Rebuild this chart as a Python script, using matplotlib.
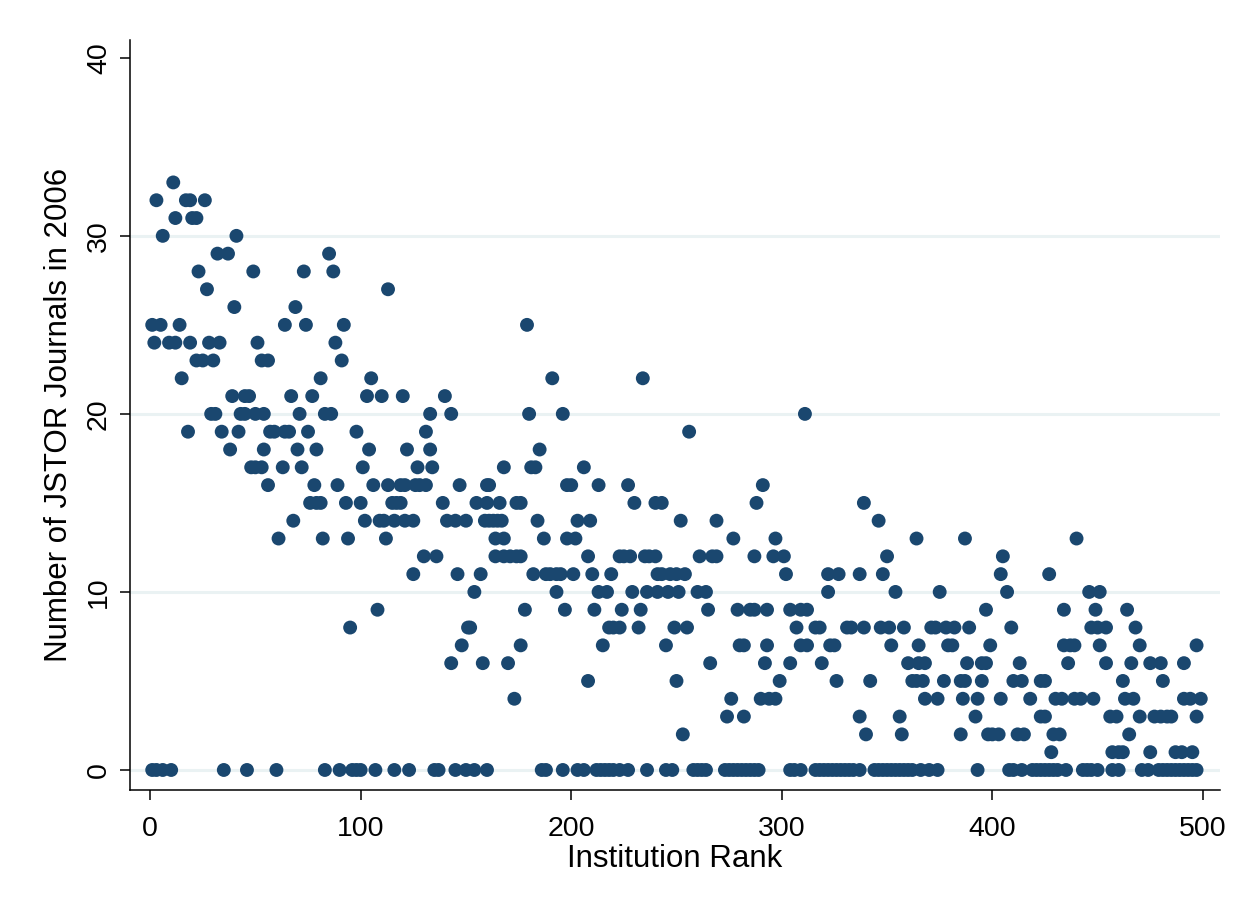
import matplotlib
matplotlib.use("Agg")
import matplotlib.pyplot as plt

# institutions with at least one JSTOR journal (rank, count)
rank = [1, 5, 2, 9, 12, 3, 6, 11, 12, 14, 15, 17, 19, 18, 19, 20, 22, 22, 25, 23, 26, 27, 28, 33, 30, 29, 31, 32, 37, 34,
        41, 40, 39, 45, 47, 38, 43, 45, 42, 49, 51, 53, 56, 50, 54, 48, 50, 53, 54, 57, 59, 64, 66, 56, 61, 63, 64, 69, 67, 68,
        71, 70, 73, 74, 72, 75, 77, 78, 76, 79, 81, 79, 81, 82, 85, 87, 83, 86, 88, 92, 91, 89, 93, 94, 95, 98, 100, 101, 102, 103,
        105, 104, 106, 108, 110, 109, 111, 112, 113, 113, 115, 117, 119, 116, 120, 119, 121, 121, 125, 122, 125, 127, 126, 128, 131, 130, 131, 133, 133, 134,
        136, 140, 139, 143, 141, 145, 150, 143, 146, 147, 148, 151, 152, 154, 155, 157, 158, 160, 161, 159, 161, 160, 166, 163, 165, 164, 168, 164, 168, 168,
        167, 170, 173, 171, 174, 176, 174, 176, 176, 178, 179, 180, 181, 183, 182, 184, 185, 187, 188, 190, 193, 195, 191, 193, 196, 197, 198, 200, 198, 202,
        201, 203, 206, 208, 208, 209, 210, 211, 213, 213, 217, 215, 218, 220, 223, 219, 224, 223, 228, 225, 227, 229, 232, 230, 233, 235, 237, 240, 234, 236,
        241, 240, 243, 241, 243, 247, 250, 245, 249, 246, 251, 250, 252, 253, 255, 254, 256, 260, 264, 261, 267, 269, 265, 266, 269, 274, 276, 277, 279, 285,
        280, 282, 282, 288, 287, 287, 290, 294, 297, 291, 292, 293, 293, 297, 296, 301, 299, 302, 304, 309, 312, 304, 307, 309, 312, 311, 316, 318, 319, 322,
        327, 322, 323, 325, 326, 331, 333, 337, 337, 339, 340, 342, 339, 347, 346, 348, 350, 351, 354, 352, 356, 357, 358, 360, 362, 364, 367, 365, 365, 368,
        364, 368, 371, 373, 378, 382, 375, 377, 374, 379, 381, 385, 385, 387, 388, 387, 389, 386, 393, 392, 395, 397, 395, 397, 399, 398, 400, 403, 404, 405,
        407, 404, 409, 410, 414, 413, 412, 415, 418, 423, 425, 423, 425, 427, 428, 429, 432, 430, 434, 434, 437, 439, 433, 439, 442, 436, 440, 446, 451, 447,
        450, 454, 449, 448, 451, 454, 456, 459, 462, 457, 460, 462, 463, 467, 464, 468, 470, 466, 475, 465, 470, 475, 477, 480, 483, 485, 480, 481, 487, 490,
        491, 494, 499, 491, 497, 497, 495]
journals = [25, 25, 24, 24, 24, 32, 30, 33, 31, 25, 22, 32, 32, 19, 24, 31, 31, 23, 23, 28, 32, 27, 24, 24, 23, 20, 20, 29, 29, 19,
            30, 26, 21, 21, 21, 18, 20, 20, 19, 28, 24, 23, 23, 20, 20, 17, 17, 17, 18, 19, 19, 19, 19, 16, 13, 17, 25, 26, 21, 14,
            20, 18, 28, 25, 17, 19, 21, 16, 15, 15, 15, 18, 22, 13, 29, 28, 20, 20, 24, 25, 23, 16, 15, 13, 8, 19, 15, 17, 14, 21,
            22, 18, 16, 9, 21, 14, 14, 13, 27, 16, 15, 15, 15, 14, 21, 16, 16, 14, 14, 18, 11, 17, 16, 16, 16, 12, 19, 20, 18, 17,
            12, 21, 15, 20, 14, 14, 14, 6, 11, 16, 7, 8, 8, 10, 15, 11, 6, 16, 16, 14, 14, 15, 15, 14, 14, 13, 13, 12, 12, 17,
            14, 6, 4, 12, 12, 12, 15, 15, 7, 9, 25, 20, 17, 17, 11, 14, 18, 13, 11, 11, 11, 11, 22, 10, 20, 9, 16, 16, 13, 13,
            11, 14, 17, 12, 5, 14, 11, 9, 16, 10, 10, 7, 8, 8, 8, 11, 9, 12, 12, 12, 16, 10, 8, 15, 9, 12, 12, 12, 22, 10,
            10, 15, 15, 11, 11, 11, 11, 7, 8, 10, 10, 5, 14, 2, 8, 11, 19, 10, 10, 12, 12, 12, 9, 6, 14, 3, 4, 13, 9, 9,
            7, 7, 3, 15, 12, 9, 4, 4, 4, 16, 6, 7, 9, 13, 12, 12, 5, 11, 9, 9, 9, 6, 8, 7, 7, 20, 8, 8, 6, 11,
            11, 10, 7, 7, 5, 8, 8, 11, 3, 15, 2, 5, 8, 8, 14, 11, 12, 8, 10, 7, 3, 2, 8, 6, 5, 5, 5, 7, 6, 6,
            13, 4, 8, 8, 8, 8, 10, 5, 4, 7, 7, 2, 5, 5, 6, 13, 8, 4, 4, 3, 6, 6, 5, 9, 7, 2, 2, 2, 11, 12,
            10, 4, 8, 5, 5, 6, 2, 2, 4, 5, 5, 3, 3, 11, 1, 2, 2, 4, 9, 7, 7, 7, 4, 4, 4, 6, 13, 10, 10, 8,
            8, 8, 9, 4, 7, 6, 3, 3, 5, 1, 1, 1, 4, 4, 9, 8, 7, 6, 6, 2, 3, 1, 3, 3, 3, 3, 6, 5, 1, 1,
            4, 4, 4, 6, 7, 3, 1]

# institutions with no JSTOR journals
zero_rank = [1, 3, 6, 10, 35, 46, 60, 83, 90, 96, 98, 100, 107, 116, 123, 135, 137, 145, 150, 154, 160, 186, 188, 196, 203,
             206, 212, 214, 216, 218, 220, 223, 227, 236, 245, 248, 258, 260, 262, 264, 273, 275, 277, 279, 281, 283, 285, 287,
             289, 304, 306, 309, 316, 318, 320, 322, 324, 326, 328, 330, 332, 334, 337, 344, 346, 348, 350, 352, 354, 356, 358,
             360, 362, 366, 370, 374, 393, 408, 410, 414, 419, 421, 423, 425, 427, 429, 431, 435, 443, 445, 447, 450, 457, 460,
             471, 474, 479, 481, 483, 485, 487, 489, 491, 493, 495, 497]
zero_journals = [0] * len(zero_rank)

xticks = [0, 100, 200, 300, 400, 500]
yticks = [0, 10, 20, 30, 40]

plt.rcParams["font.family"] = ["Liberation Sans", "DejaVu Sans"]

fig = plt.figure(figsize=(12.51, 9.09), dpi=100)
ax = fig.add_axes([0.104, 0.131, 0.871, 0.825])

navy = "#1a476f"
for y in [0, 10, 20, 30]:
    ax.axhline(y, color="#eaf2f3", lw=2.2, zorder=0)

ax.scatter(rank + zero_rank, journals + zero_journals, s=100, color=navy,
           edgecolors="none", zorder=3)

ax.set_xlim(-9.5, 508)
ax.set_ylim(-1.12, 41.0)
ax.set_xticks(xticks)
ax.set_yticks(yticks)
ax.tick_params(axis="both", direction="out", length=7, width=1.1, labelsize=20.5, colors="black")
ax.tick_params(axis="x", pad=12)
ax.tick_params(axis="y", pad=6)
for lab in ax.get_yticklabels():
    lab.set_rotation(90)
    lab.set_va("center")

for side in ["top", "right"]:
    ax.spines[side].set_visible(False)
for side in ["left", "bottom"]:
    ax.spines[side].set_linewidth(1.1)

ax.set_xlabel("Institution Rank", fontsize=22.5, labelpad=1)
ax.set_ylabel("Number of JSTOR Journals in 2006", fontsize=22.5, labelpad=9)

fig.savefig("out.png", dpi=100, facecolor="white")
